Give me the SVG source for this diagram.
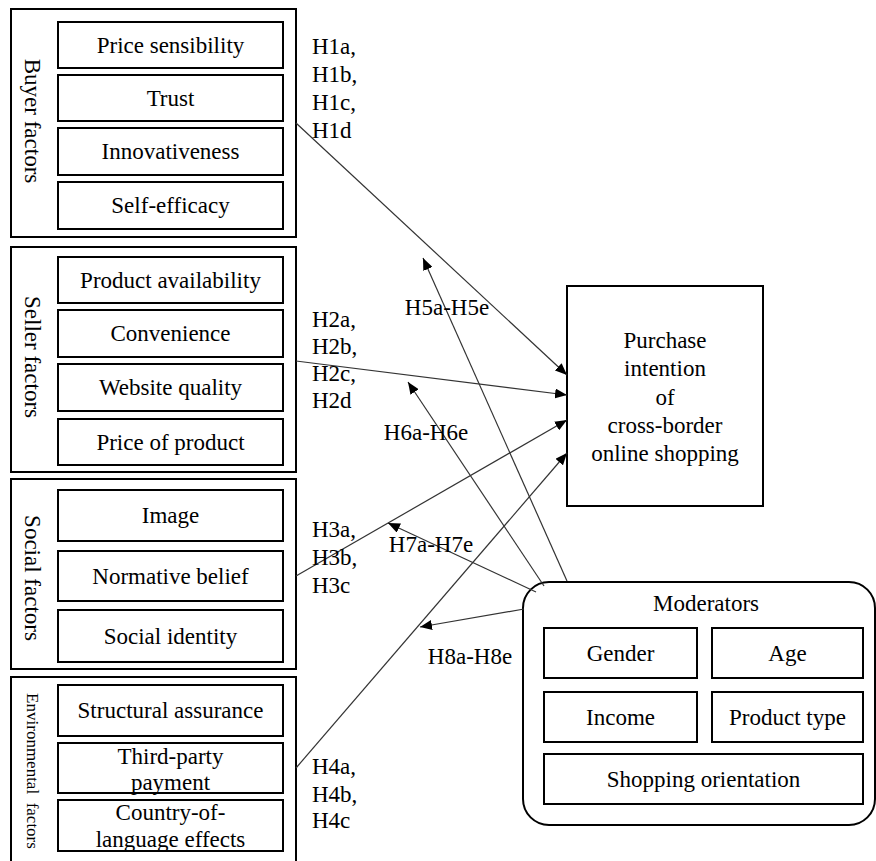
<svg xmlns="http://www.w3.org/2000/svg" width="876" height="861" viewBox="0 0 876 861" font-family="'Liberation Serif', serif">
<style>
  text { font-family: "Liberation Serif", "Times New Roman", serif; fill: #000; }
  .t { font-size: 23px; text-anchor: middle; }
  .h { font-size: 23px; }
  .outer { fill: none; stroke: #000; stroke-width: 2; }
  .inner { fill: #fff; stroke: #000; stroke-width: 2; }
  .conn { stroke: #333; stroke-width: 1.2; fill: none; marker-end: url(#arr); }
</style>
<defs>
  <marker id="arr" viewBox="0 0 12 10" refX="12" refY="5" markerWidth="12" markerHeight="10" markerUnits="userSpaceOnUse" orient="auto">
    <path d="M0,0 L12,5 L0,10 z" fill="#000"/>
  </marker>
</defs>
<rect width="876" height="861" fill="#fff"/>

<g id="buyer">
  <rect class="outer" x="11" y="9" width="285" height="228"/>
  <text class="t" transform="translate(33,121) rotate(90)" dy="0.35em">Buyer factors</text>
  <rect class="inner" x="58" y="22" width="225" height="46"/>
  <text class="t" x="170.5" y="53">Price sensibility</text>
  <rect class="inner" x="58" y="75" width="225" height="46"/>
  <text class="t" x="170.5" y="106">Trust</text>
  <rect class="inner" x="58" y="128" width="225" height="47"/>
  <text class="t" x="170.5" y="159">Innovativeness</text>
  <rect class="inner" x="58" y="182" width="225" height="47"/>
  <text class="t" x="170.5" y="213">Self-efficacy</text>
</g>

<g id="seller">
  <rect class="outer" x="11" y="247" width="285" height="225"/>
  <text class="t" transform="translate(33,357) rotate(90)" dy="0.35em">Seller factors</text>
  <rect class="inner" x="58" y="257" width="225" height="46"/>
  <text class="t" x="170.5" y="288">Product availability</text>
  <rect class="inner" x="58" y="310" width="225" height="47"/>
  <text class="t" x="170.5" y="341">Convenience</text>
  <rect class="inner" x="58" y="364" width="225" height="47"/>
  <text class="t" x="170.5" y="395">Website quality</text>
  <rect class="inner" x="58" y="419" width="225" height="46"/>
  <text class="t" x="170.5" y="450">Price of product</text>
</g>

<g id="social">
  <rect class="outer" x="11" y="479" width="285" height="190"/>
  <text class="t" transform="translate(33,578) rotate(90)" dy="0.35em">Social factors</text>
  <rect class="inner" x="58" y="490" width="225" height="51"/>
  <text class="t" x="170.5" y="523">Image</text>
  <rect class="inner" x="58" y="551" width="225" height="50"/>
  <text class="t" x="170.5" y="584">Normative belief</text>
  <rect class="inner" x="58" y="610" width="225" height="52"/>
  <text class="t" x="170.5" y="644">Social identity</text>
</g>

<g id="environmental">
  <path class="outer" d="M11,870 L11,677 L296,677 L296,870"/>
  <text class="t" style="font-size:17px" transform="translate(33,771) rotate(90)" dy="0.35em" xml:space="preserve">Environmental  factors</text>
  <rect class="inner" x="58" y="685" width="225" height="51"/>
  <text class="t" x="170.5" y="718">Structural assurance</text>
  <rect class="inner" x="58" y="743" width="225" height="50"/>
  <text class="t" x="170.5" y="764">Third-party</text>
  <text class="t" x="170.5" y="790">payment</text>
  <rect class="inner" x="58" y="800" width="225" height="51"/>
  <text class="t" x="170.5" y="820">Country-of-</text>
  <text class="t" x="170.5" y="847">language effects</text>
</g>

<g id="purchase">
  <rect class="outer" x="567" y="286" width="196" height="220"/>
  <text class="t" x="665" y="348">Purchase</text>
  <text class="t" x="665" y="376">intention</text>
  <text class="t" x="665" y="405">of</text>
  <text class="t" x="665" y="433">cross-border</text>
  <text class="t" x="665" y="461">online shopping</text>
</g>

<g id="moderators">
  <rect class="outer" x="523" y="582" width="352" height="243" rx="26" ry="26"/>
  <text class="t" x="706" y="611">Moderators</text>
  <rect class="inner" x="544" y="628" width="153" height="50"/>
  <text class="t" x="620.5" y="661">Gender</text>
  <rect class="inner" x="712" y="628" width="151" height="50"/>
  <text class="t" x="787.5" y="661">Age</text>
  <rect class="inner" x="544" y="692" width="153" height="50"/>
  <text class="t" x="620.5" y="725">Income</text>
  <rect class="inner" x="712" y="692" width="151" height="50"/>
  <text class="t" x="787.5" y="725">Product type</text>
  <rect class="inner" x="544" y="754" width="319" height="50"/>
  <text class="t" x="703.5" y="787">Shopping orientation</text>
</g>

<g id="connectors">
  <line class="conn" x1="296" y1="123" x2="567" y2="375"/>
  <line class="conn" x1="296" y1="361" x2="567" y2="395"/>
  <line class="conn" x1="296" y1="576" x2="567" y2="420"/>
  <line class="conn" x1="296" y1="768" x2="567" y2="453"/>
  <line class="conn" x1="567" y1="581" x2="423" y2="258"/>
  <line class="conn" x1="544" y1="586" x2="408" y2="382"/>
  <line class="conn" x1="536" y1="592" x2="388" y2="523"/>
  <line class="conn" x1="524" y1="609" x2="420" y2="627"/>
</g>

<g id="labels">
  <text class="h" x="312" y="54">H1a,</text>
  <text class="h" x="312" y="82">H1b,</text>
  <text class="h" x="312" y="110">H1c,</text>
  <text class="h" x="312" y="138">H1d</text>
  <text class="h" x="312" y="327">H2a,</text>
  <text class="h" x="312" y="354">H2b,</text>
  <text class="h" x="312" y="381">H2c,</text>
  <text class="h" x="312" y="408">H2d</text>
  <text class="h" x="312" y="537">H3a,</text>
  <text class="h" x="312" y="565">H3b,</text>
  <text class="h" x="312" y="593">H3c</text>
  <text class="h" x="312" y="774">H4a,</text>
  <text class="h" x="312" y="802">H4b,</text>
  <text class="h" x="312" y="828">H4c</text>
  <text class="t" x="447" y="315">H5a-H5e</text>
  <text class="t" x="426" y="440">H6a-H6e</text>
  <text class="t" x="431" y="552">H7a-H7e</text>
  <text class="t" x="470" y="664">H8a-H8e</text>
</g>
</svg>
